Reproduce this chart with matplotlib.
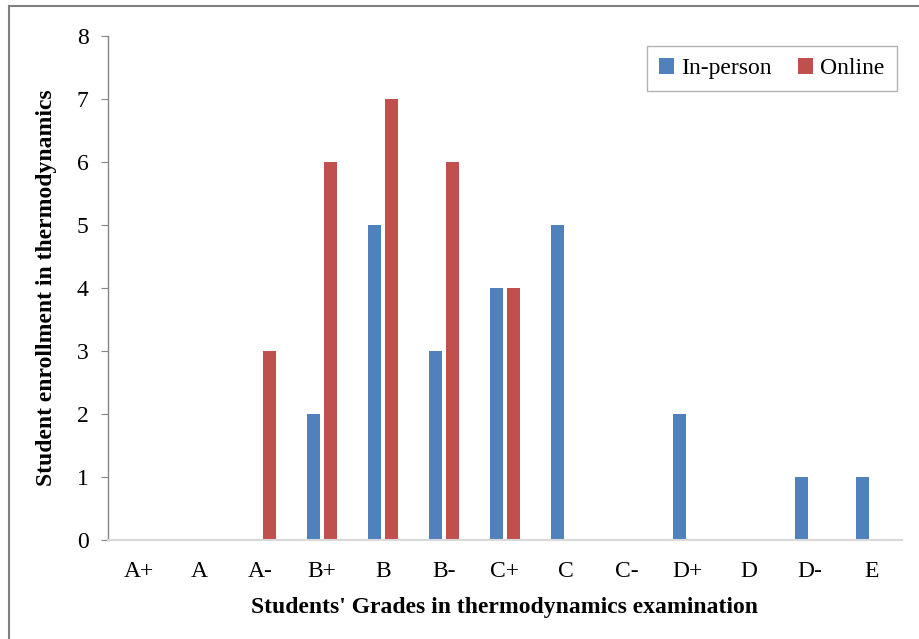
import numpy as np
import matplotlib.pyplot as plt
from matplotlib.lines import Line2D

grades = ["A+", "A", "A-", "B+", "B", "B-", "C+", "C", "C-", "D+", "D", "D-", "E"]
in_person = [0, 0, 0, 2, 5, 3, 4, 5, 0, 2, 0, 1, 1]
online = [0, 0, 3, 6, 7, 6, 4, 0, 0, 0, 0, 0, 0]

plt.rcParams['font.family'] = ['Liberation Serif', 'DejaVu Serif']

fig = plt.figure(figsize=(9.2, 6.39), dpi=100)
ax = fig.add_axes([0.1174, 0.155, 0.8626, 0.7887])

x = np.arange(len(grades))
w = 0.21
ax.bar(x - 0.14, in_person, w, color="#4F81BD", label="In-person")
ax.bar(x + 0.14, online, w, color="#C0504D", label="Online")

ax.set_xlim(-0.5, len(grades) - 0.5)
ax.set_ylim(0, 8)
ax.set_yticks(range(0, 9))
ax.set_xticks(x)
ax.set_xticklabels(grades)
ax.tick_params(axis="x", length=0, labelsize=17, pad=15)
ax.tick_params(axis="y", length=5, color="#868686", labelsize=17, pad=9, direction="out")

for s in ["top", "right"]:
    ax.spines[s].set_visible(False)
ax.spines["left"].set_color("#868686")
ax.spines["bottom"].set_color("#D9D9D9")
ax.spines["left"].set_linewidth(1.0)
ax.spines["bottom"].set_linewidth(1.5)

ax.set_xlabel("Students' Grades in thermodynamics examination", fontsize=17,
              fontweight="bold", labelpad=11)
ax.set_ylabel("Student enrollment in thermodynamics", fontsize=17,
              fontweight="bold", labelpad=14)

leg = ax.legend(loc="upper right", bbox_to_anchor=(0.9937, 0.980), ncol=2, fontsize=17,
                frameon=True, fancybox=False, handlelength=0.65, handleheight=0.65,
                handletextpad=0.3, columnspacing=1.1, borderpad=0.5, borderaxespad=0)
leg.get_frame().set_edgecolor("#A0A0A0")
leg.get_frame().set_linewidth(1.0)

# outer chart border (left and top only visible)
fig.add_artist(Line2D([8.5 / 920, 8.5 / 920], [0, 1 - 6 / 639], transform=fig.transFigure,
                      color="#808080", lw=1.5))
fig.add_artist(Line2D([8.5 / 920, 1], [1 - 6 / 639, 1 - 6 / 639], transform=fig.transFigure,
                      color="#808080", lw=1.5))

fig.savefig("out.png", dpi=100)
